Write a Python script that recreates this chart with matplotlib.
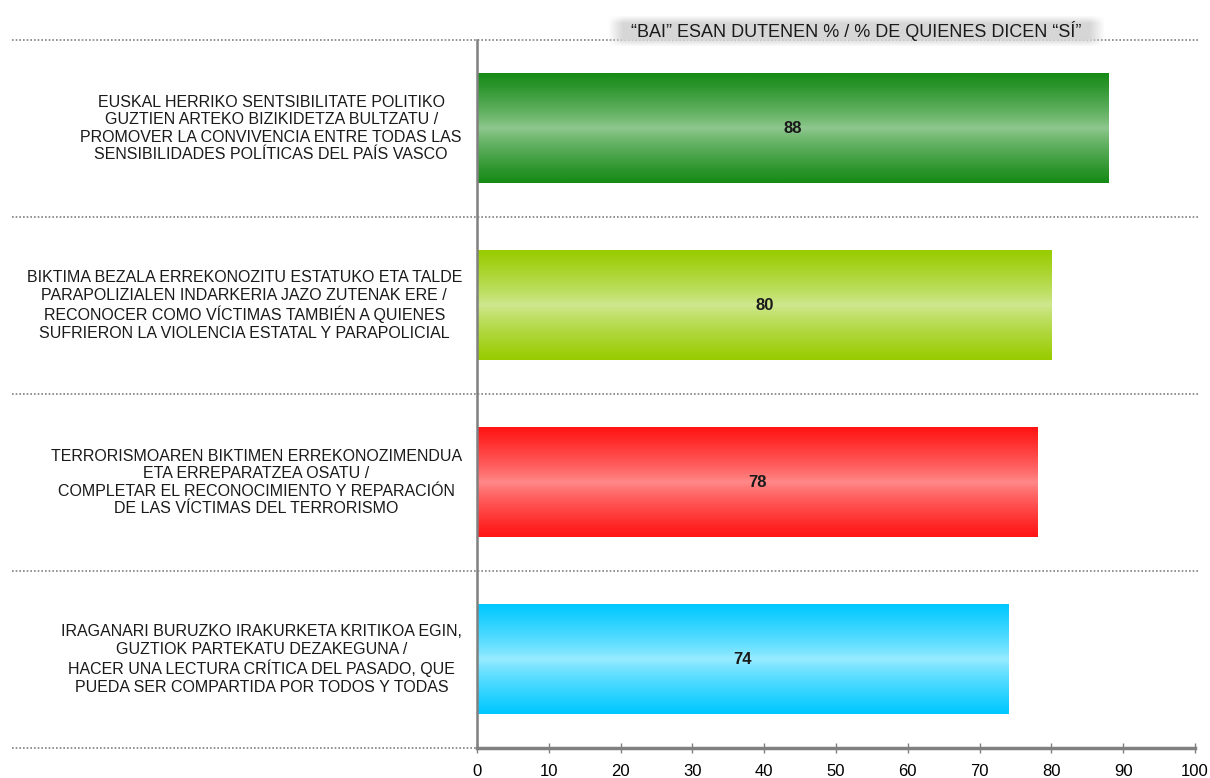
import matplotlib
matplotlib.use("Agg")
import matplotlib.pyplot as plt
import numpy as np
from matplotlib.colors import LinearSegmentedColormap
from matplotlib.transforms import blended_transform_factory

plt.rcParams['font.family'] = ['Liberation Sans', 'DejaVu Sans']

categories = [
    "EUSKAL HERRIKO SENTSIBILITATE POLITIKO\nGUZTIEN ARTEKO BIZIKIDETZA BULTZATU /\nPROMOVER LA CONVIVENCIA ENTRE TODAS LAS\nSENSIBILIDADES POLÍTICAS DEL PAÍS VASCO",
    "BIKTIMA BEZALA ERREKONOZITU ESTATUKO ETA TALDE\nPARAPOLIZIALEN INDARKERIA JAZO ZUTENAK ERE /\nRECONOCER COMO VÍCTIMAS TAMBIÉN A QUIENES\nSUFRIERON LA VIOLENCIA ESTATAL Y PARAPOLICIAL",
    "TERRORISMOAREN BIKTIMEN ERREKONOZIMENDUA\nETA ERREPARATZEA OSATU /\nCOMPLETAR EL RECONOCIMIENTO Y REPARACIÓN\nDE LAS VÍCTIMAS DEL TERRORISMO",
    "IRAGANARI BURUZKO IRAKURKETA KRITIKOA EGIN,\nGUZTIOK PARTEKATU DEZAKEGUNA /\nHACER UNA LECTURA CRÍTICA DEL PASADO, QUE\nPUEDA SER COMPARTIDA POR TODOS Y TODAS",
]
values = [88, 80, 78, 74]
edge_colors = ["#168a16", "#99cc00", "#ff1414", "#00c8ff"]
center_colors = ["#92c992", "#d0e892", "#ff8c8c", "#9cecff"]
title_text = "“BAI” ESAN DUTENEN % / % DE QUIENES DICEN “SÍ”"
xticks = [0, 10, 20, 30, 40, 50, 60, 70, 80, 90, 100]

W, H = 1210, 778
fig = plt.figure(figsize=(W / 100, H / 100), dpi=100)
ax = fig.add_axes([477 / W, 1 - 748 / H, (1195 - 477) / W, (748 - 40) / H])

n = len(values)
bar_h = 0.62

grad = np.linspace(0, 1, 64)
prof = 1 - np.abs(2 * grad - 1) ** 0.8
for i, (v, ec, cc) in enumerate(zip(values, edge_colors, center_colors)):
    cmap = LinearSegmentedColormap.from_list(f"c{i}", [ec, cc])
    ax.imshow(prof.reshape(-1, 1), cmap=cmap, vmin=0, vmax=1, aspect='auto',
              extent=(0, v, i + bar_h / 2, i - bar_h / 2), interpolation='bilinear', zorder=2)
    ax.text(v / 2, i, str(v), ha='center', va='center', fontsize=12,
            fontweight='bold', color='#1a1a1a', zorder=3)

ax.set_xlim(0, 100)
ax.set_ylim(n - 0.5, -0.5)
ax.set_xticks(xticks)
ax.set_xticklabels([str(t) for t in xticks], fontsize=12)
ax.set_yticks([])
ax.tick_params(axis='x', direction='inout', length=7, width=1, color='#808080', pad=8)

for s in ['top', 'right']:
    ax.spines[s].set_visible(False)
ax.spines['bottom'].set_color('#808080')
ax.spines['bottom'].set_linewidth(2.5)
ax.spines['left'].set_color('#808080')
ax.spines['left'].set_linewidth(1.8)

# dotted separators spanning whole figure width
trans = blended_transform_factory(fig.transFigure, ax.transData)
for b in np.arange(-0.5, n, 1.0):
    x_end = 1200 / W if b < n - 0.5 else 477 / W
    ax.plot([12 / W, x_end], [b, b], transform=trans, linestyle=(0, (1, 1.2)),
            color='#808080', linewidth=1.2, clip_on=False, zorder=1)

# category labels
for i, lab in enumerate(categories):
    ax.annotate(lab, xy=(0, i), xycoords='data', xytext=(-15, 0), textcoords='offset pixels',
                ha='right', va='center', multialignment='center', fontsize=11.5,
                linespacing=1.22, color='#1a1a1a', annotation_clip=False)

# title box with gradient
tax = fig.add_axes([607 / W, 1 - 47 / H, (1105 - 607) / W, 32 / H])
gx = np.linspace(0, 1, 200)
gy = np.linspace(0, 1, 32)
fx = np.clip(np.minimum(gx, 1 - gx) / 0.03, 0, 1)
fy = np.clip(np.minimum(gy, 1 - gy) / 0.25, 0, 1)
alpha = np.outer(fy, fx)
img = np.ones((32, 200, 4))
img[..., :3] = 0.84
img[..., 3] = alpha
tax.imshow(img, aspect='auto', extent=(0, 1, 0, 1), interpolation='bilinear')
tax.set_xlim(0, 1)
tax.set_ylim(0, 1)
tax.axis('off')
tax.text(0.5, 0.5, title_text, ha='center', va='center', fontsize=13, color='#1a1a1a')

fig.savefig("out.png", dpi=100)
